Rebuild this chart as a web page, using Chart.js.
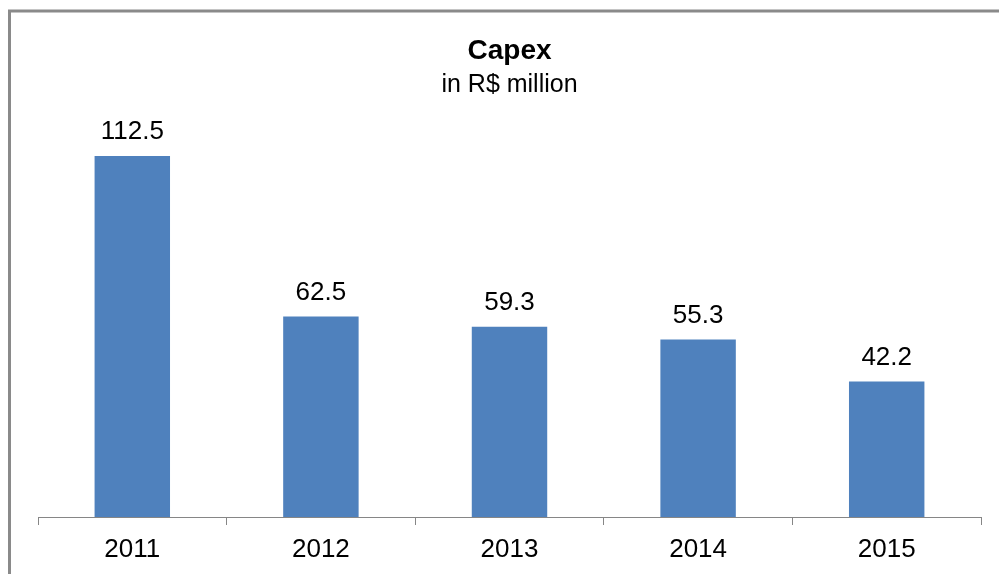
<!DOCTYPE html>
<html>
<head>
<meta charset="utf-8">
<script src="https://cdn.jsdelivr.net/npm/chart.js@4/dist/chart.umd.min.js"></script>
<style>
  html, body { margin: 0; padding: 0; background: #fff; }
  #wrap { width: 999px; height: 574px; position: relative; }
</style>
</head>
<body>
<div id="wrap"><canvas id="c"></canvas></div>
<script>
// ── Data ─────────────────────────────────────────────────────────────────────
const years = ['2011', '2012', '2013', '2014', '2015']
const capex = [112.5, 62.5, 59.3, 55.3, 42.2]

const FONT = '"Liberation Sans", Arial, sans-serif'
const BAR_COLOR = '#4F81BD'
const AXIS_GRAY = '#868686'

// frame around the chart (only top/left edges are visible in the crop)
const framePlugin = {
  id: 'frame',
  beforeDraw(chart) {
    const { ctx } = chart
    ctx.save()
    ctx.fillStyle = '#fff'
    ctx.fillRect(0, 0, chart.width, chart.height)
    ctx.strokeStyle = '#8a8a8a'
    ctx.lineWidth = 3
    ctx.beginPath()
    ctx.moveTo(9.5, chart.height + 2)
    ctx.lineTo(9.5, 11)
    ctx.lineTo(chart.width + 2, 11)
    ctx.stroke()
    ctx.restore()
  }
}

// value labels above the bars
const valueLabels = {
  id: 'valueLabels',
  afterDatasetsDraw(chart) {
    const { ctx } = chart
    const meta = chart.getDatasetMeta(0)
    ctx.save()
    ctx.font = `26px ${FONT}`
    ctx.fillStyle = '#000'
    ctx.textAlign = 'center'
    ctx.textBaseline = 'alphabetic'
    meta.data.forEach((bar, i) => {
      ctx.fillText(capex[i].toFixed(1), bar.x, bar.y - 17)
    })
    ctx.restore()
  }
}

new Chart(document.getElementById('c'), {
  type: 'bar',
  data: {
    labels: years,
    datasets: [{
      data: capex,
      backgroundColor: BAR_COLOR,
      borderWidth: 0,
      categoryPercentage: 1,
      barPercentage: 0.4
    }]
  },
  options: {
    responsive: true,
    maintainAspectRatio: false,
    animation: false,
    layout: { padding: { left: 38, right: 18, top: 0, bottom: 0 } },
    plugins: {
      legend: { display: false },
      tooltip: { enabled: false },
      title: {
        display: true,
        text: 'Capex',
        color: '#000',
        font: { family: FONT, size: 28, weight: 'bold', lineHeight: 1.2 },
        padding: { top: 34, bottom: 0 }
      },
      subtitle: {
        display: true,
        text: 'in R$ million',
        color: '#000',
        font: { family: FONT, size: 25, lineHeight: 1.2 },
        padding: { top: 3, bottom: 15.4 }
      }
    },
    scales: {
      x: {
        grid: {
          display: true,
          drawOnChartArea: false,
          drawTicks: true,
          tickLength: 8,
          offset: true,
          color: AXIS_GRAY
        },
        border: { display: true, color: AXIS_GRAY, width: 1 },
        ticks: {
          color: '#000',
          padding: 8.9,
          font: { family: FONT, size: 26 }
        }
      },
      y: {
        display: false,
        min: 0,
        max: 125
      }
    }
  },
  plugins: [framePlugin, valueLabels]
})
</script>
</body>
</html>
